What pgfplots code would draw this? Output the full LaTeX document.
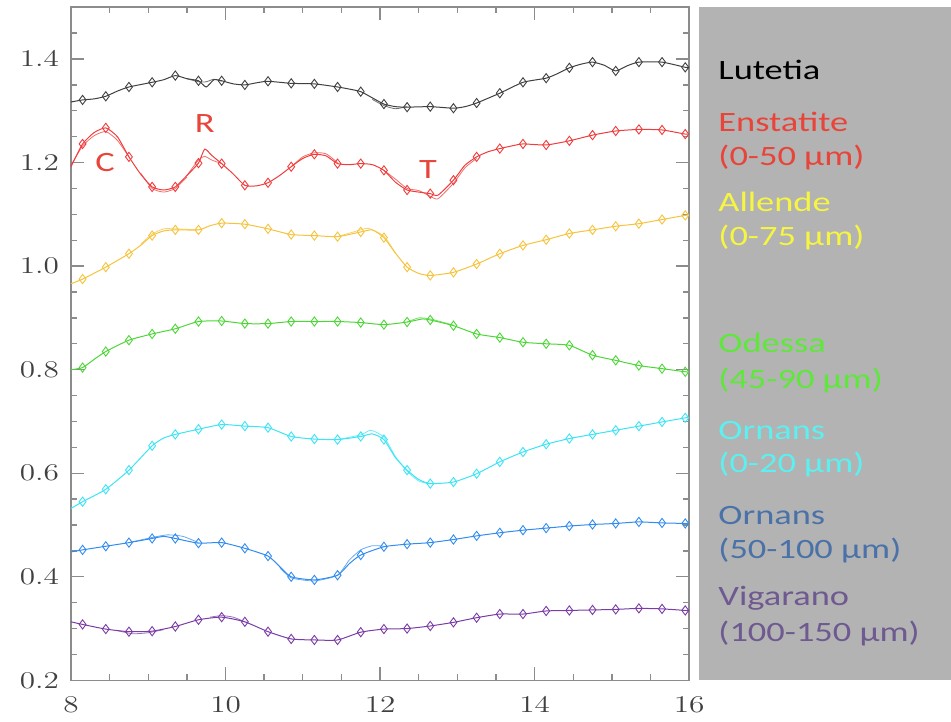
\documentclass[border=0pt]{standalone}
\usepackage{fontspec}
\usepackage{pgfplots}
\usepackage{pgfplotstable}
\pgfplotsset{compat=1.18}
\newfontfamily\carl{Carlito}
\definecolor{cBlack}{RGB}{64,64,64}
\definecolor{cRed}{RGB}{240,60,60}
\definecolor{cYel}{RGB}{245,195,60}
\definecolor{cGreen}{RGB}{76,215,55}
\definecolor{cCyan}{RGB}{60,228,245}
\definecolor{cBlue}{RGB}{50,140,240}
\definecolor{cPurp}{RGB}{122,60,165}
\definecolor{tRed}{RGB}{232,68,58}
\definecolor{tYel}{RGB}{245,245,66}
\definecolor{tGreen}{RGB}{94,232,58}
\definecolor{tCyan}{RGB}{92,240,240}
\definecolor{tBlue}{RGB}{74,114,168}
\definecolor{tPurp}{RGB}{110,90,144}
\definecolor{panel}{RGB}{179,179,179}

\pgfplotstableread{
x y m
8.0 1.317 0
8.15 1.321 1
8.3 1.323 0
8.45 1.328 1
8.6 1.338 0
8.75 1.346 1
9.05 1.355 1
9.2 1.360 0
9.35 1.368 1
9.5 1.362 0
9.65 1.358 1
9.75 1.346 0
9.85 1.360 0
9.95 1.358 1
10.1 1.352 0
10.25 1.350 1
10.4 1.354 0
10.55 1.357 1
10.85 1.353 1
11.15 1.352 1
11.45 1.346 1
11.6 1.342 0
11.75 1.337 1
11.9 1.325 0
12.05 1.313 1
12.2 1.308 0
12.35 1.307 1
12.65 1.308 1
12.95 1.305 1
13.1 1.308 0
13.25 1.315 1
13.55 1.334 1
13.85 1.355 1
14.15 1.363 1
14.3 1.372 0
14.45 1.383 1
14.6 1.390 0
14.75 1.394 1
14.9 1.388 0
15.05 1.377 1
15.2 1.387 0
15.35 1.394 1
15.65 1.394 1
15.95 1.384 1
16.0 1.383 0
}\lutetia

\pgfplotstableread{
x y m
8.0 1.192 0
8.15 1.236 1
8.3 1.258 0
8.45 1.267 1
8.6 1.250 0
8.75 1.211 1
8.9 1.178 0
9.05 1.153 1
9.2 1.147 0
9.35 1.153 1
9.5 1.175 0
9.65 1.199 1
9.73 1.226 0
9.82 1.214 0
9.95 1.198 1
10.1 1.178 0
10.25 1.156 1
10.4 1.155 0
10.55 1.161 1
10.7 1.175 0
10.85 1.192 1
11.0 1.208 0
11.15 1.216 1
11.3 1.213 0
11.45 1.198 1
11.6 1.196 0
11.75 1.198 1
11.9 1.196 0
12.05 1.185 1
12.2 1.162 0
12.35 1.147 1
12.5 1.143 0
12.65 1.140 1
12.75 1.137 0
12.95 1.166 1
13.1 1.195 0
13.25 1.211 1
13.4 1.221 0
13.55 1.227 1
13.7 1.232 0
13.85 1.236 1
14.15 1.234 1
14.45 1.242 1
14.75 1.253 1
15.05 1.261 1
15.35 1.264 1
15.65 1.263 1
15.95 1.255 1
16.0 1.255 0
}\enstatite

\pgfplotstableread{
x y m
8.0 0.966 0
8.15 0.975 1
8.45 0.998 1
8.75 1.024 1
8.9 1.040 0
9.05 1.059 1
9.2 1.068 0
9.35 1.070 1
9.65 1.070 1
9.8 1.078 0
9.95 1.083 1
10.25 1.081 1
10.55 1.072 1
10.85 1.061 1
11.15 1.059 1
11.45 1.057 1
11.75 1.066 1
11.9 1.070 0
12.05 1.055 1
12.2 1.025 0
12.35 0.998 1
12.5 0.986 0
12.65 0.982 1
12.95 0.988 1
13.25 1.004 1
13.55 1.024 1
13.85 1.040 1
14.15 1.051 1
14.45 1.063 1
14.75 1.070 1
15.05 1.077 1
15.35 1.082 1
15.65 1.090 1
15.95 1.098 1
16.0 1.099 0
}\allende

\pgfplotstableread{
x y m
8.0 0.800 0
8.15 0.804 1
8.3 0.820 0
8.45 0.835 1
8.75 0.857 1
9.05 0.869 1
9.35 0.879 1
9.65 0.893 1
9.95 0.894 1
10.25 0.889 1
10.55 0.889 1
10.85 0.893 1
11.15 0.893 1
11.45 0.893 1
11.75 0.891 1
12.05 0.887 1
12.35 0.892 1
12.55 0.898 0
12.65 0.896 1
12.95 0.885 1
13.25 0.869 1
13.55 0.862 1
13.85 0.853 1
14.15 0.850 1
14.45 0.847 1
14.75 0.828 1
15.05 0.818 1
15.35 0.808 1
15.65 0.802 1
15.95 0.796 1
16.0 0.795 0
}\odessa

\pgfplotstableread{
x y m
8.0 0.532 0
8.15 0.545 1
8.45 0.569 1
8.75 0.606 1
9.05 0.653 1
9.2 0.668 0
9.35 0.675 1
9.65 0.685 1
9.95 0.694 1
10.25 0.691 1
10.55 0.688 1
10.85 0.671 1
11.15 0.666 1
11.45 0.665 1
11.75 0.671 1
11.9 0.676 0
12.05 0.665 1
12.2 0.630 0
12.35 0.606 1
12.5 0.588 0
12.65 0.580 1
12.95 0.583 1
13.25 0.599 1
13.55 0.622 1
13.85 0.641 1
14.15 0.656 1
14.45 0.667 1
14.75 0.675 1
15.05 0.683 1
15.35 0.691 1
15.65 0.699 1
15.95 0.707 1
16.0 0.708 0
}\ornansA

\pgfplotstableread{
x y m
8.0 0.448 0
8.15 0.452 1
8.45 0.459 1
8.75 0.466 1
9.05 0.474 1
9.2 0.478 0
9.35 0.474 1
9.65 0.465 1
9.95 0.466 1
10.25 0.455 1
10.55 0.440 1
10.7 0.420 0
10.85 0.400 1
11.15 0.394 1
11.45 0.403 1
11.6 0.425 0
11.75 0.442 1
12.05 0.458 1
12.35 0.463 1
12.65 0.466 1
12.95 0.472 1
13.25 0.479 1
13.55 0.485 1
13.85 0.490 1
14.15 0.494 1
14.45 0.498 1
14.75 0.501 1
15.05 0.503 1
15.35 0.506 1
15.65 0.504 1
15.95 0.503 1
16.0 0.502 0
}\ornansB

\pgfplotstableread{
x y m
8.0 0.313 0
8.15 0.308 1
8.45 0.299 1
8.75 0.294 1
9.05 0.295 1
9.35 0.304 1
9.65 0.317 1
9.95 0.322 1
10.25 0.313 1
10.55 0.294 1
10.85 0.280 1
11.15 0.278 1
11.45 0.278 1
11.75 0.293 1
12.05 0.299 1
12.35 0.300 1
12.65 0.305 1
12.95 0.312 1
13.25 0.321 1
13.55 0.328 1
13.85 0.328 1
14.15 0.334 1
14.45 0.335 1
14.75 0.336 1
15.05 0.337 1
15.35 0.339 1
15.65 0.338 1
15.95 0.335 1
16.0 0.334 0
}\vigarano

\newcommand{\spec}[2]{%
  \addplot[#1, line width=0.5pt, smooth, tension=0.35] table[x=x,y=y] {#2};
  \addplot[#1, only marks, mark=diamond, mark size=2.3pt, mark options={line width=0.45pt, fill=none},
    restrict expr to domain={\thisrow{m}}{0.5:1.5}] table[x=x,y=y] {#2};
}
\newcommand{\alt}[2]{\addplot[#1, line width=0.4pt, opacity=0.75, smooth, tension=0.35] coordinates {#2};}
\newcommand{\pl}[3]{\node[anchor=west, inner sep=0pt, text=#1, font=\carl\fontsize{14}{16}\selectfont] at (axis cs:16.375,#2) {\scalebox{1.3}[1]{#3}};}
\newcommand{\ann}[3]{\node[inner sep=0pt, text=tRed, font=\carl\fontsize{14}{16}\selectfont] at (axis cs:#1,#2) {\scalebox{1.3}[1]{#3}};}

\begin{document}
\begin{tikzpicture}
\begin{axis}[
  scale only axis, width=309pt, height=336.5pt,
  xmin=8, xmax=16, ymin=0.2, ymax=1.5,
  clip=false,
  axis line style={draw=black!45, line width=0.8pt},
  every tick/.style={black!45, line width=0.7pt},
  xtick={8,10,12,14,16}, minor xtick={8.5,9,...,15.5},
  ytick={0.2,0.4,...,1.41}, minor ytick={0.25,0.3,...,1.5},
  major tick length=6.5pt, minor tick length=3pt,
  tick align=inside,
  xticklabel={\scalebox{1.3}[1]{$\pgfmathprintnumber{\tick}$}},
  yticklabel={\scalebox{1.3}[1]{$\pgfmathprintnumber[fixed,fixed zerofill,precision=1]{\tick}$}},
  ticklabel style={font=\fontsize{13}{15}\selectfont, text=black!75},
  xticklabel style={yshift=-5pt},
  yticklabel style={xshift=-2.5pt},
]
\path (axis cs:7.081,0.120) rectangle (axis cs:19.39,1.514);
\fill[panel] (axis cs:16.13,0.2) rectangle (axis cs:19.39,1.5);

\spec{cBlack}{\lutetia}
\spec{cRed}{\enstatite}
\spec{cYel}{\allende}
\spec{cGreen}{\odessa}
\spec{cCyan}{\ornansA}
\spec{cBlue}{\ornansB}
\spec{cPurp}{\vigarano}

% second spectra where they separate from the main one
\alt{cBlack}{(9.5,1.362)(9.65,1.356)(9.75,1.356)(9.85,1.361)(9.95,1.357)}
\alt{cBlack}{(11.9,1.322)(12.05,1.310)(12.2,1.304)(12.35,1.308)}
\alt{cRed}{(8.0,1.195)(8.15,1.232)(8.3,1.252)(8.45,1.260)(8.6,1.243)(8.75,1.211)}
\alt{cRed}{(8.9,1.180)(9.05,1.150)(9.2,1.143)(9.35,1.150)(9.5,1.172)}
\alt{cRed}{(9.5,1.175)(9.65,1.205)(9.73,1.212)(9.82,1.205)(9.95,1.198)}
\alt{cRed}{(10.85,1.192)(11.0,1.211)(11.15,1.219)(11.3,1.217)(11.45,1.200)}
\alt{cRed}{(12.05,1.185)(12.2,1.168)(12.35,1.150)(12.5,1.146)(12.65,1.135)(12.75,1.130)(12.95,1.160)(13.1,1.190)(13.25,1.208)}
\alt{cYel}{(8.9,1.042)(9.05,1.062)(9.2,1.072)(9.35,1.072)(9.65,1.070)}
\alt{cYel}{(11.45,1.057)(11.75,1.070)(11.85,1.073)(12.05,1.058)(12.2,1.025)}
\alt{cGreen}{(12.35,0.892)(12.5,0.900)(12.65,0.898)(12.95,0.886)}
\alt{cCyan}{(11.45,0.665)(11.75,0.674)(11.88,0.683)(12.05,0.670)(12.2,0.632)(12.35,0.604)(12.5,0.585)(12.65,0.579)}
\alt{cBlue}{(8.75,0.466)(9.05,0.476)(9.25,0.481)(9.45,0.478)(9.65,0.466)}
\alt{cBlue}{(10.7,0.418)(10.85,0.398)(11.15,0.392)(11.45,0.403)(11.6,0.432)(11.75,0.452)(11.9,0.460)(12.05,0.459)}
\alt{cPurp}{(8.6,0.296)(8.8,0.290)(9.0,0.292)(9.2,0.298)}
\alt{cPurp}{(9.8,0.322)(9.95,0.325)(10.1,0.322)(10.25,0.313)}

\ann{8.44}{1.201}{C}
\ann{9.73}{1.276}{R}
\ann{12.62}{1.186}{T}

\pl{black}{1.379}{Lutetia}
\pl{tRed}{1.278}{Enstatite}
\pl{tRed}{1.209}{(0-50 µm)}
\pl{tYel}{1.124}{Allende}
\pl{tYel}{1.056}{(0-75 µm)}
\pl{tGreen}{0.852}{Odessa}
\pl{tGreen}{0.780}{(45-90 µm)}
\pl{tCyan}{0.683}{Ornans}
\pl{tCyan}{0.616}{(0-20 µm)}
\pl{tBlue}{0.519}{Ornans}
\pl{tBlue}{0.451}{(50-100 µm)}
\pl{tPurp}{0.359}{Vigarano}
\pl{tPurp}{0.291}{(100-150 µm)}
\end{axis}
\end{tikzpicture}
\end{document}
